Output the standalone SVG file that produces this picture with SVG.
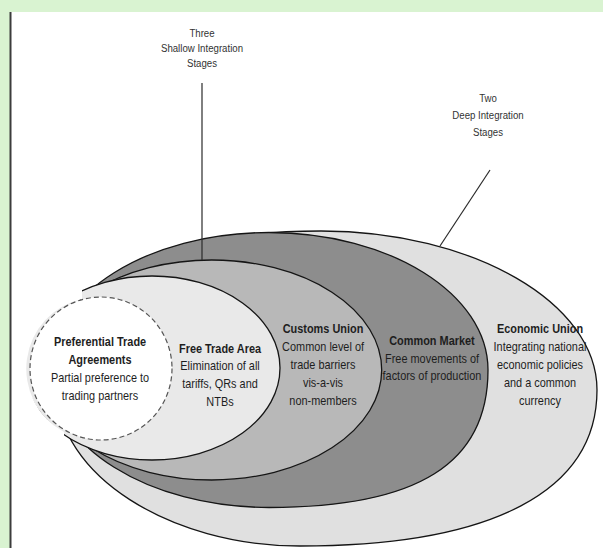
<svg xmlns="http://www.w3.org/2000/svg" width="603" height="548" viewBox="0 0 603 548">
<style>
.o{stroke:#151515;stroke-width:1.3}
.t{font-family:'Liberation Sans',Arial,sans-serif;font-size:13px;fill:#1e1e1e;text-anchor:middle;transform-box:fill-box;transform-origin:center;transform:scaleX(0.84)}
.s{font-size:11.5px;fill:#333}
.b{font-weight:bold}
.c{stroke:#2a2a2a;stroke-width:1.2;fill:none}
</style>
<defs>
<clipPath id="clip"><path d="M82,0 H603 V548 H64 V432 A71,71.5 0 0 1 82,299 Z"/></clipPath>
</defs>
<rect width="603" height="548" fill="#d9f3d1"/>
<rect x="10" y="12" width="593" height="536" fill="#ffffff"/>
<line x1="10.5" y1="12" x2="10.5" y2="548" stroke="#3c3c3c" stroke-width="2"/>
<g clip-path="url(#clip)">
<g id="economic-union">
<path class="o" fill="#e0e0e0" d="M57,388 C57,286 149,231 321,231 C473,231 597,303 597,390 C597,491 493,546 300,546 C170,546 57,475 57,388 Z"/>
<text class="t b" x="540" y="333">Economic Union</text>
<text class="t" x="540" y="351">Integrating national</text>
<text class="t" x="540" y="369">economic policies</text>
<text class="t" x="540" y="387">and a common</text>
<text class="t" x="540" y="405">currency</text>
</g>
<g id="common-market">
<path class="o" fill="#8d8d8d" d="M50,370 C50,294 148,232.5 269,232.5 C390,232.5 488,294 488,370 C488,463.5 418,507.5 269,507.5 C148,507.5 50,446 50,370 Z"/>
<text class="t b" x="432" y="345">Common Market</text>
<text class="t" x="432" y="363">Free movements of</text>
<text class="t" x="432" y="380">factors of production</text>
</g>
<g id="customs-union">
<ellipse class="o" fill="#b8b8b8" cx="211.7" cy="370" rx="170" ry="110"/>
<text class="t b" x="323" y="333">Customs Union</text>
<text class="t" x="323" y="351">Common level of</text>
<text class="t" x="323" y="369">trade barriers</text>
<text class="t" x="323" y="387">vis-a-vis</text>
<text class="t" x="323" y="405">non-members</text>
</g>
<g id="free-trade-area">
<ellipse class="o" fill="#e9e9e9" cx="152" cy="368" rx="128" ry="92"/>
<text class="t b" x="220" y="353">Free Trade Area</text>
<text class="t" x="220" y="370">Elimination of all</text>
<text class="t" x="220" y="388">tariffs, QRs and</text>
<text class="t" x="220" y="406">NTBs</text>
</g>
</g>
<g id="preferential-trade-agreements">
<ellipse cx="101" cy="368.5" rx="71" ry="71.5" fill="#ffffff" stroke="#555" stroke-width="1.2" stroke-dasharray="5 3"/>
<text class="t b" x="100" y="346">Preferential Trade</text>
<text class="t b" x="100" y="364">Agreements</text>
<text class="t" x="100" y="382">Partial preference to</text>
<text class="t" x="100" y="400">trading partners</text>
</g>
<g id="shallow-label">
<text class="t s" x="202" y="37">Three</text>
<text class="t s" x="202" y="52">Shallow Integration</text>
<text class="t s" x="202" y="67">Stages</text>
</g>
<g id="deep-label">
<text class="t s" x="488" y="102">Two</text>
<text class="t s" x="488" y="119">Deep Integration</text>
<text class="t s" x="488" y="136">Stages</text>
</g>
<g id="connectors">
<line class="c" x1="202" y1="83" x2="202" y2="260"/>
<line class="c" x1="490" y1="170" x2="440" y2="246"/>
</g>
</svg>
